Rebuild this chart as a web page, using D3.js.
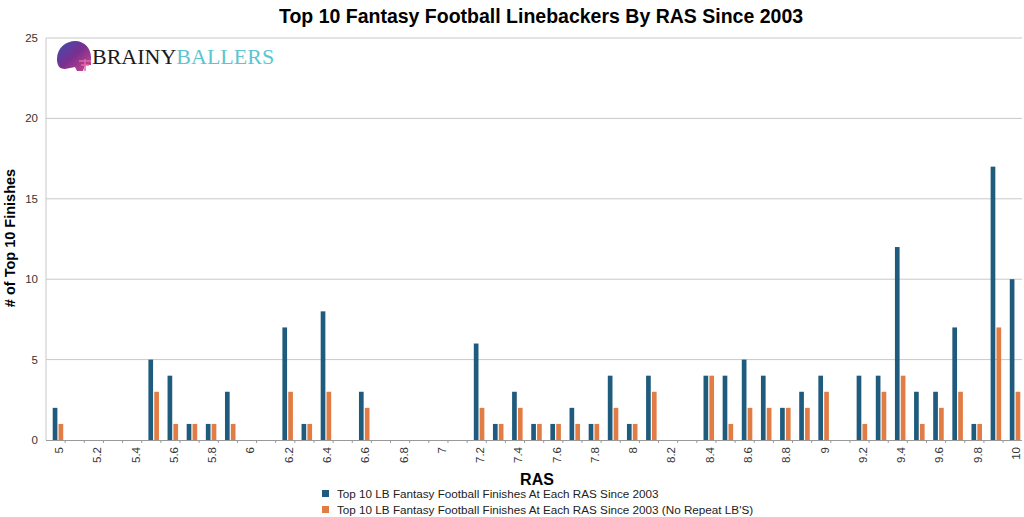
<!DOCTYPE html>
<html>
<head>
<meta charset="utf-8">
<script src="https://cdn.jsdelivr.net/npm/d3@7"></script>
<style>
  body { margin: 0; background: #fff; }
  svg { display: block; font-family: "Liberation Sans", Arial, sans-serif; }
</style>
</head>
<body>
<div id="chart"></div>
<script>
// RAS buckets 5.0 .. 10.0
var rasLabels = ["5","5.1","5.2","5.3","5.4","5.5","5.6","5.7","5.8","5.9",
  "6","6.1","6.2","6.3","6.4","6.5","6.6","6.7","6.8","6.9",
  "7","7.1","7.2","7.3","7.4","7.5","7.6","7.7","7.8","7.9",
  "8","8.1","8.2","8.3","8.4","8.5","8.6","8.7","8.8","8.9",
  "9","9.1","9.2","9.3","9.4","9.5","9.6","9.7","9.8","9.9","10"];

var allFinishes = [2,0,0,0,0,5,4,1,1,3,
  0,0,7,1,8,0,3,0,0,0,
  0,0,6,1,3,1,1,2,1,4,
  1,4,0,0,4,4,5,4,2,3,
  4,0,4,4,12,3,3,7,1,17,10];

var noRepeat = [1,0,0,0,0,3,1,1,1,1,
  0,0,3,1,3,0,2,0,0,0,
  0,0,2,1,2,1,1,1,1,2,
  1,3,0,0,4,1,2,2,2,2,
  3,0,1,3,4,1,2,3,1,7,3];

var seriesNames = ["Top 10 LB Fantasy Football Finishes At Each RAS Since 2003",
  "Top 10 LB Fantasy Football Finishes At Each RAS Since 2003 (No Repeat LB'S)"];
var colors = ["#1f5b7c", "#e27c45"];
var yTicks = [0, 5, 10, 15, 20, 25];

var width = 1024, height = 517;
var margin = {top: 38, right: 2, bottom: 77, left: 46};

var svg = d3.select("#chart").append("svg")
    .attr("width", width)
    .attr("height", height);

var x0 = d3.scaleBand()
    .domain(rasLabels)
    .range([margin.left, 1027])
    .paddingInner(0.45)
    .paddingOuter(0.35);

var x1 = d3.scaleBand()
    .domain([0, 1])
    .range([0, x0.bandwidth()])
    .paddingInner(0.2);

var y = d3.scaleLinear()
    .domain([0, 25])
    .range([height - margin.bottom, margin.top]);

// gridlines
svg.append("g")
    .selectAll("line")
    .data(yTicks.slice(1))
    .enter().append("line")
    .attr("x1", margin.left)
    .attr("x2", width - margin.right)
    .attr("y1", function(d) { return y(d); })
    .attr("y2", function(d) { return y(d); })
    .style("stroke", "#c8c8c8")
    .style("stroke-width", 1);

// left axis line
svg.append("line")
    .attr("x1", margin.left).attr("x2", margin.left)
    .attr("y1", margin.top).attr("y2", y(0))
    .style("stroke", "#c8c8c8");

// y tick labels
svg.append("g")
    .selectAll("text")
    .data(yTicks)
    .enter().append("text")
    .attr("x", 38)
    .attr("y", function(d) { return y(d) + 4; })
    .attr("text-anchor", "end")
    .style("font-size", "11.5px")
    .style("fill", "#333")
    .text(function(d) { return d; });

// bars
var rows = rasLabels.map(function(r, i) { return {ras: r, vals: [allFinishes[i], noRepeat[i]]}; });

var groups = svg.append("g")
    .selectAll("g")
    .data(rows)
    .enter().append("g")
    .attr("transform", function(d) { return "translate(" + x0(d.ras) + ",0)"; });

groups.selectAll("rect")
    .data(function(d) { return d.vals.map(function(v, k) { return {k: k, v: v}; }); })
    .enter().append("rect")
    .attr("x", function(d) { return x1(d.k); })
    .attr("width", x1.bandwidth())
    .attr("y", function(d) { return y(d.v); })
    .attr("height", function(d) { return y(0) - y(d.v); })
    .attr("fill", function(d) { return colors[d.k]; });

// x axis
var step = x0.step();
svg.append("line")
    .attr("x1", margin.left).attr("x2", width - margin.right)
    .attr("y1", y(0) + 0.5).attr("y2", y(0) + 0.5)
    .style("stroke", "#999");

svg.append("g")
    .selectAll("line")
    .data(rasLabels.slice(1))
    .enter().append("line")
    .attr("x1", function(d) { return x0(d) - step * 0.35; })
    .attr("x2", function(d) { return x0(d) - step * 0.35; })
    .attr("y1", y(0))
    .attr("y2", y(0) + 3)
    .style("stroke", "#999");

svg.append("g")
    .selectAll("text")
    .data(rasLabels.filter(function(d, i) { return i % 2 === 0; }))
    .enter().append("text")
    .attr("transform", function(d) {
        return "translate(" + (x0(d) + x0.bandwidth() / 2 + 5) + "," + (y(0) + 7) + ") rotate(-90)";
    })
    .attr("text-anchor", "end")
    .style("font-size", "11.5px")
    .style("fill", "#333")
    .text(function(d) { return d; });

// title
svg.append("text")
    .attr("x", 541).attr("y", 23)
    .attr("text-anchor", "middle")
    .style("font-size", "19.5px")
    .style("font-weight", "bold")
    .text("Top 10 Fantasy Football Linebackers By RAS Since 2003");

// axis titles
svg.append("text")
    .attr("x", 537).attr("y", 485)
    .attr("text-anchor", "middle")
    .style("font-size", "16px")
    .style("font-weight", "bold")
    .text("RAS");

svg.append("text")
    .attr("transform", "translate(15,238) rotate(-90)")
    .attr("text-anchor", "middle")
    .style("font-size", "14.5px")
    .style("font-weight", "bold")
    .text("# of Top 10 Finishes");

// legend
var legend = svg.append("g")
    .selectAll("g")
    .data(seriesNames)
    .enter().append("g")
    .attr("transform", function(d, i) { return "translate(322," + (491 + i * 16) + ")"; });

legend.append("rect")
    .attr("width", 7).attr("height", 7)
    .attr("y", -1)
    .attr("fill", function(d, i) { return colors[i]; });

legend.append("text")
    .attr("x", 15).attr("y", 7)
    .style("font-size", "11.7px")
    .style("fill", "#222")
    .text(function(d) { return d; });

// logo
var defs = svg.append("defs");
var grad = defs.append("linearGradient").attr("id", "helm")
    .attr("x1", "0").attr("y1", "0").attr("x2", "1").attr("y2", "1");
grad.append("stop").attr("offset", "0").attr("stop-color", "#3a4fb0");
grad.append("stop").attr("offset", "0.5").attr("stop-color", "#7a2f8f");
grad.append("stop").attr("offset", "1").attr("stop-color", "#d04a8e");

var logo = svg.append("g").attr("transform", "translate(55,41)");
logo.append("path")
    .attr("d", "M2,18 C2,6 12,0 20,0 C30,0 36,8 36,16 L36,24 L30,24 L28,30 L22,30 L20,26 L10,28 C4,28 2,24 2,18 Z")
    .attr("fill", "url(#helm)");
logo.append("path")
    .attr("d", "M24,20 L36,20 M26,24 L34,24 M30,18 L30,30")
    .style("stroke", "#e46aa8").style("stroke-width", 1.5).style("fill", "none");

var brand = svg.append("text")
    .attr("x", 92).attr("y", 64)
    .style("font-family", "'Liberation Serif', 'DejaVu Serif', serif")
    .style("font-size", "22px");
brand.append("tspan").attr("fill", "#1a1a1a").text("BRAINY");
brand.append("tspan").attr("fill", "#5cc5d0").text("BALLERS");
</script>
</body>
</html>
